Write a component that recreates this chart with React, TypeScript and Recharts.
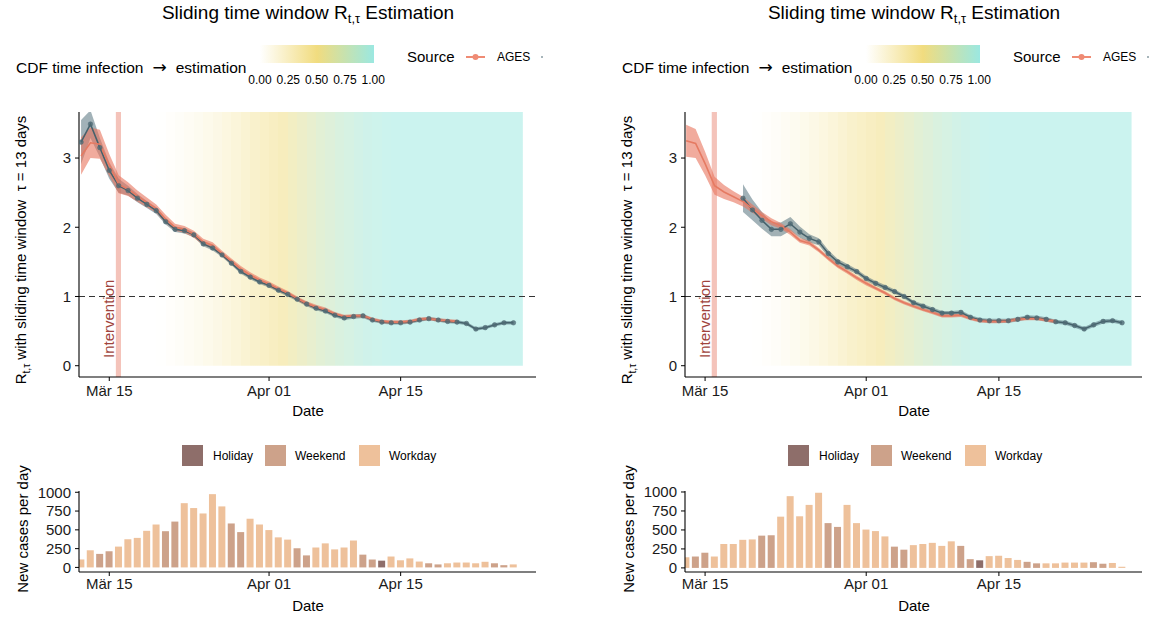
import React from 'react';
import {
  ComposedChart,
  BarChart,
  Area,
  Line,
  Bar,
  Cell,
  XAxis,
  YAxis,
  ReferenceArea,
  ReferenceLine,
} from 'recharts';

// days are counted from Mär 15 (day 0)
const tickDays = [0, 17, 31];
const tickLabels = ['Mär 15', 'Apr 01', 'Apr 15'];
const rTicks = [0, 1, 2, 3];
const caseTicks = [0, 250, 500, 750, 1000];
const cdfLabels = ['0.00', '0.25', '0.50', '0.75', '1.00'];

// CDF time infection -> estimation, one value per day from day -3
const cdfStart = -3;
const cdf = [
  0, 0, 0, 0, 0, 0, 0, 0,
  0.01, 0.03, 0.05, 0.08, 0.11, 0.15, 0.19, 0.23, 0.28, 0.33, 0.38, 0.42, 0.46, 0.51,
  0.56, 0.62, 0.68, 0.74, 0.79, 0.84, 0.88, 0.92, 0.95, 0.97, 0.99,
  1, 1, 1, 1, 1, 1, 1, 1, 1, 1, 1, 1, 1, 1, 1, 1,
];

// left panel
const leftGreyStart = -3;
const leftGrey = [
  3.23, 3.49, 3.15, 2.82, 2.6, 2.53, 2.42, 2.33, 2.24, 2.08, 1.97, 1.95, 1.89, 1.76, 1.7, 1.6,
  1.48, 1.36, 1.28, 1.21, 1.16, 1.09, 1.03, 0.96, 0.89, 0.83, 0.79, 0.73, 0.69, 0.71, 0.72,
  0.66, 0.63, 0.62, 0.62, 0.63, 0.66, 0.68, 0.66, 0.64, 0.63, 0.61, 0.53, 0.55, 0.59, 0.62, 0.62,
];
const leftGreySpread = [
  0.32, 0.2, 0.14, 0.12, 0.1, 0.07, 0.06, 0.05, 0.05, 0.04, 0.04, 0.04, 0.035, 0.035, 0.035, 0.03,
  0.03, 0.03, 0.03, 0.03, 0.03, 0.03, 0.03, 0.03, 0.03, 0.03, 0.03, 0.03, 0.03, 0.03, 0.03,
  0.025, 0.025, 0.025, 0.025, 0.025, 0.025, 0.025, 0.025, 0.025, 0.025, 0.025, 0.025, 0.025, 0.025, 0.025, 0.025,
];
const leftOrangeStart = -3;
const leftOrange = [
  3.03, 3.22, 3.2, 2.9, 2.62, 2.55, 2.45, 2.36, 2.27, 2.12, 2.0, 1.97, 1.9, 1.79, 1.74, 1.62,
  1.51, 1.4, 1.31, 1.24, 1.18, 1.11, 1.05, 0.97, 0.9, 0.85, 0.81, 0.75, 0.71, 0.72, 0.72,
  0.67, 0.64, 0.63, 0.63, 0.64, 0.67, 0.68, 0.66, 0.65, 0.64,
];
const leftOrangeSpread = [
  0.27, 0.22, 0.21, 0.16, 0.13, 0.1, 0.08, 0.07, 0.06, 0.06, 0.05, 0.05, 0.05, 0.045, 0.045, 0.04,
  0.04, 0.04, 0.04, 0.035, 0.035, 0.035, 0.03, 0.03, 0.03, 0.03, 0.03, 0.025, 0.025, 0.025, 0.025,
  0.025, 0.025, 0.025, 0.025, 0.025, 0.025, 0.025, 0.025, 0.025, 0.025,
];
const leftCasesStart = -3;
const leftCases = [
  106, 228, 180, 215, 277, 375, 393, 487, 571, 482, 610, 855, 790, 718, 975, 812, 585, 470, 648,
  572, 497, 400, 370, 255, 160, 265, 320, 240, 265, 358, 170, 105, 90, 145, 95, 120, 78, 55, 40,
  55, 65, 65, 55, 75, 55, 30, 40,
];
const leftDayType = 'WWEEWWWWWEEWWWWWEEWWWWWEEWWWWWEEHWWWWEEWWWWWEEW';

// right panel
const rightOrangeStart = -2;
const rightOrange = [
  3.25, 3.21, 2.92, 2.6, 2.51, 2.44, 2.37, 2.27, 2.17, 2.08, 2.02, 1.93, 1.81, 1.77, 1.67, 1.55,
  1.44, 1.36, 1.27, 1.19, 1.12, 1.05, 0.97, 0.91, 0.86, 0.81, 0.77, 0.72, 0.72, 0.73, 0.68,
  0.65, 0.64, 0.64, 0.645, 0.67, 0.68, 0.68, 0.66, 0.64,
];
const rightOrangeSpread = [
  0.23, 0.21, 0.17, 0.13, 0.1, 0.08, 0.07, 0.06, 0.05, 0.05, 0.04, 0.04, 0.035, 0.035, 0.03, 0.03,
  0.03, 0.03, 0.03, 0.03, 0.025, 0.025, 0.025, 0.025, 0.025, 0.025, 0.025, 0.025, 0.025, 0.025,
  0.025, 0.025, 0.025, 0.025, 0.025, 0.025, 0.025, 0.025, 0.025, 0.025,
];
const rightGreyStart = 4;
const rightGrey = [
  2.42, 2.25, 2.1, 1.97, 1.97, 2.05, 1.93, 1.84, 1.79, 1.62, 1.5, 1.43, 1.36, 1.26, 1.19, 1.13,
  1.07, 1.0, 0.91, 0.86, 0.81, 0.76, 0.76, 0.77, 0.7, 0.66, 0.65, 0.65, 0.65, 0.67, 0.7, 0.69,
  0.67, 0.635, 0.62, 0.58, 0.53, 0.59, 0.64, 0.65, 0.62,
];
const rightGreySpread = [
  0.2, 0.15, 0.12, 0.1, 0.1, 0.1, 0.08, 0.06, 0.05, 0.05, 0.04, 0.04, 0.035, 0.035, 0.035, 0.035,
  0.03, 0.03, 0.03, 0.03, 0.03, 0.03, 0.03, 0.03, 0.03, 0.03, 0.03, 0.03, 0.03, 0.03, 0.03, 0.03,
  0.03, 0.03, 0.03, 0.03, 0.03, 0.03, 0.03, 0.03, 0.03,
];
const rightCasesStart = -2;
const rightCases = [
  140, 150, 200, 150, 315, 315, 370, 375, 425, 430, 675, 945, 680, 830, 990, 590, 540, 830, 590,
  505, 485, 415, 280, 240, 300, 315, 330, 290, 350, 290, 115, 100, 155, 160, 130, 105, 80, 60,
  60, 60, 70, 70, 70, 75, 55, 65, 15,
];
const rightDayType = 'WEEWWWWWEEWWWWWEEWWWWWEEWWWWWEEHWWWWEEWWWWWEEWW';

const dayTypeNames: Record<string, string> = { H: 'Holiday', E: 'Weekend', W: 'Workday' };
const dayTypeColors: Record<string, string> = { Holiday: '#8E6E6A', Weekend: '#CDA28A', Workday: '#EEC19B' };

const FONT = '"Liberation Sans", Arial, sans-serif';
const W = 560;

type Row = {
  day: number;
  grey?: number;
  greyBand?: [number, number];
  orange?: number;
  orangeBand?: [number, number];
};

function buildRows(
  from: number,
  to: number,
  grey: number[],
  greyStart: number,
  greySpread: number[],
  orange: number[],
  orangeStart: number,
  orangeSpread: number[]
): Row[] {
  const rows: Row[] = [];
  for (let d = from; d <= to; d++) {
    const row: Row = { day: d };
    const gi = d - greyStart;
    if (gi >= 0 && gi < grey.length) {
      row.grey = grey[gi];
      row.greyBand = [grey[gi] - greySpread[gi], grey[gi] + greySpread[gi]];
    }
    const oi = d - orangeStart;
    if (oi >= 0 && oi < orange.length) {
      row.orange = orange[oi];
      row.orangeBand = [orange[oi] - orangeSpread[oi], orange[oi] + orangeSpread[oi]];
    }
    rows.push(row);
  }
  return rows;
}

function buildCases(start: number, cases: number[], types: string) {
  return cases.map((c, i) => ({ day: start + i, cases: c, type: dayTypeNames[types[i]] }));
}

const cdfStops = [
  [255, 255, 255],
  [241, 220, 127],
  [155, 232, 225],
];

function cdfColor(c: number, alpha: number) {
  const t = c * 2;
  const i = t < 1 ? 0 : 1;
  const f = t - i;
  const a = cdfStops[i];
  const b = cdfStops[Math.min(i + 1, 2)];
  const rgb = a.map((v, k) => Math.round(255 + (v + (b[k] - v) * f - 255) * alpha));
  return `rgb(${rgb.join(',')})`;
}

function InterventionLabel(props: any) {
  const vb = props.viewBox || {};
  const x = vb.x - 1.5;
  const y = vb.y + vb.height - 19;
  return (
    <text
      x={x}
      y={y}
      transform={`rotate(-90, ${x}, ${y})`}
      fill="#A0443C"
      fontSize={15}
      fontFamily={FONT}
      textAnchor="start"
    >
      Intervention
    </text>
  );
}

const Rsub = () => (
  <>
    R<sub style={{ fontSize: '0.68em' }}>t,τ</sub>
  </>
);

interface PanelProps {
  left: number;
  id: string;
  xDomain: [number, number];
  rows: Row[];
  bgTo: number;
  cases: { day: number; cases: number; type: string }[];
  caseDomain: [number, number];
}

function Panel({ left, id, xDomain, rows, bgTo, cases, caseDomain }: PanelProps) {
  const yDomain: [number, number] = [-0.163, 3.665];
  const bgFrom = rows[0].day;
  const span = bgTo - bgFrom;
  const stops: React.ReactNode[] = [];
  for (let d = bgFrom; d < bgTo; d++) {
    const col = cdfColor(cdf[d - cdfStart], 0.52);
    stops.push(<stop key={`a${d}`} offset={(d - bgFrom) / span} stopColor={col} />);
    stops.push(<stop key={`b${d}`} offset={(d + 1 - bgFrom) / span} stopColor={col} />);
  }
  const axisProps = {
    tick: { fill: '#1a1a1a', fontSize: 15, fontFamily: FONT },
    tickLine: { stroke: '#000' },
    axisLine: { stroke: '#000', strokeWidth: 1.1 },
    tickSize: 4,
  };
  const abs = (s: React.CSSProperties): React.CSSProperties => ({ position: 'absolute', ...s });
  const centerAt = (x: number, y: number, extra?: React.CSSProperties): React.CSSProperties => ({
    position: 'absolute',
    left: x,
    top: y,
    transform: 'translate(-50%, -50%)',
    whiteSpace: 'nowrap',
    ...extra,
  });

  return (
    <div style={abs({ left, top: 0, width: 600, height: 617, fontFamily: FONT, color: '#000' })}>
      <div style={centerAt(308, 14, { fontSize: 19 })}>
        Sliding time window <Rsub /> Estimation
      </div>

      <div style={abs({ left: 16, top: 58, fontSize: 15.5, lineHeight: '18px', whiteSpace: 'nowrap' })}>
        CDF time infection
        <span style={{ fontFamily: '"DejaVu Sans", sans-serif', fontSize: 17, padding: '0 9px' }}>→</span>
        estimation
      </div>
      <div
        style={abs({
          left: 260,
          top: 45,
          width: 114,
          height: 18,
          background: `linear-gradient(to right, ${cdfColor(0, 1)}, ${cdfColor(0.5, 1)}, ${cdfColor(1, 1)})`,
        })}
      />
      {cdfLabels.map((l, i) => (
        <div key={l} style={centerAt(260 + i * 28.3, 80, { fontSize: 12 })}>
          {l}
        </div>
      ))}
      <div style={abs({ left: 407, top: 48, fontSize: 15, lineHeight: '18px' })}>Source</div>
      <svg style={abs({ left: 460, top: 50 })} width={90} height={14}>
        <line x1={6} y1={7} x2={25} y2={7} stroke="#EF8B74" strokeWidth={2} />
        <circle cx={15.5} cy={7} r={3} fill="#EF8B74" />
        <circle cx={82} cy={7} r={1} fill="#8A9DA3" />
      </svg>
      <div style={abs({ left: 497, top: 50, fontSize: 12, lineHeight: '14px' })}>AGES</div>

      <div style={centerAt(22, 250, { fontSize: 15, transform: 'translate(-50%, -50%) rotate(-90deg)' })}>
        <Rsub /> with sliding time window&nbsp; τ = 13 days
      </div>

      <div style={abs({ left: 0, top: 100 })}>
        <ComposedChart width={W} height={310} data={rows} margin={{ top: 12, right: 24, bottom: 0, left: 0 }}>
          <defs>
            <linearGradient id={`bg-${id}`} x1="0" y1="0" x2="1" y2="0">
              {stops}
            </linearGradient>
          </defs>
          <XAxis
            type="number"
            dataKey="day"
            domain={xDomain}
            allowDataOverflow
            ticks={tickDays}
            interval={0}
            tickFormatter={(v: number) => tickLabels[tickDays.indexOf(v)]}
            height={33}
            tickMargin={4}
            {...axisProps}
          />
          <YAxis
            type="number"
            domain={yDomain}
            allowDataOverflow
            ticks={rTicks}
            interval={0}
            width={79}
            tickMargin={4}
            {...axisProps}
          />
          <ReferenceArea
            x1={bgFrom}
            x2={bgTo}
            y1={0}
            y2={yDomain[1]}
            fill={`url(#bg-${id})`}
            fillOpacity={1}
            stroke="none"
          />
          <ReferenceArea
            x1={0.7}
            x2={1.25}
            fill="#F4C3BA"
            fillOpacity={1}
            stroke="none"
            label={<InterventionLabel />}
          />
          <ReferenceLine y={1} stroke="#333" strokeWidth={1.1} strokeDasharray="6 4" />
          <Area
            dataKey="greyBand"
            stroke="none"
            fill="#56737D"
            fillOpacity={0.55}
            isAnimationActive={false}
          />
          <Area
            dataKey="orangeBand"
            stroke="none"
            fill="#E8735B"
            fillOpacity={0.6}
            isAnimationActive={false}
          />
          <Line
            dataKey="grey"
            stroke="#45616B"
            strokeWidth={1.5}
            dot={{ r: 2.3, fill: '#4D6973', stroke: '#4D6973', strokeWidth: 0.5, fillOpacity: 0.8 }}
            isAnimationActive={false}
          />
          <Line dataKey="orange" stroke="#E57A62" strokeWidth={1.6} dot={false} isAnimationActive={false} />
        </ComposedChart>
      </div>
      <div style={centerAt(308, 410, { fontSize: 15 })}>Date</div>

      {Object.keys(dayTypeColors).map((name, i) => (
        <React.Fragment key={name}>
          <div
            style={abs({ left: [182, 265, 359][i], top: 445, width: 21, height: 21, background: dayTypeColors[name] })}
          />
          <div style={abs({ left: [213, 295, 389][i], top: 449, fontSize: 12, lineHeight: '14px' })}>{name}</div>
        </React.Fragment>
      ))}

      <div style={centerAt(22, 529, { fontSize: 15, transform: 'translate(-50%, -50%) rotate(-90deg)' })}>
        New cases per day
      </div>
      <div style={abs({ left: 0, top: 480 })}>
        <BarChart width={W} height={120} data={cases} margin={{ top: 11, right: 24, bottom: 0, left: 0 }}>
          <XAxis
            type="number"
            dataKey="day"
            domain={xDomain}
            allowDataOverflow
            ticks={tickDays}
            interval={0}
            tickFormatter={(v: number) => tickLabels[tickDays.indexOf(v)]}
            height={28}
            tickMargin={2}
            {...axisProps}
          />
          <YAxis
            type="number"
            domain={caseDomain}
            allowDataOverflow
            ticks={caseTicks}
            interval={0}
            width={79}
            tickMargin={4}
            {...axisProps}
          />
          <Bar dataKey="cases" barSize={7} isAnimationActive={false}>
            {cases.map((c) => (
              <Cell key={c.day} fill={dayTypeColors[c.type]} />
            ))}
          </Bar>
        </BarChart>
      </div>
      <div style={centerAt(308, 605, { fontSize: 15 })}>Date</div>
    </div>
  );
}

export default function App() {
  const leftRows = buildRows(
    -3, 43,
    leftGrey, leftGreyStart, leftGreySpread,
    leftOrange, leftOrangeStart, leftOrangeSpread
  );
  const rightRows = buildRows(
    -2, 44,
    rightGrey, rightGreyStart, rightGreySpread,
    rightOrange, rightOrangeStart, rightOrangeSpread
  );
  return (
    <div style={{ position: 'absolute', left: 0, top: 0, width: 1151, height: 617, background: '#fff', overflow: 'hidden' }}>
      <Panel
        left={0}
        id="l"
        xDomain={[-3.22, 45.4]}
        rows={leftRows}
        bgTo={44}
        cases={buildCases(leftCasesStart, leftCases, leftDayType)}
        caseDomain={[-61, 1017]}
      />
      <Panel
        left={606}
        id="r"
        xDomain={[-2.12, 46.1]}
        rows={rightRows}
        bgTo={45}
        cases={buildCases(rightCasesStart, rightCases, rightDayType)}
        caseDomain={[-54, 1013]}
      />
    </div>
  );
}
